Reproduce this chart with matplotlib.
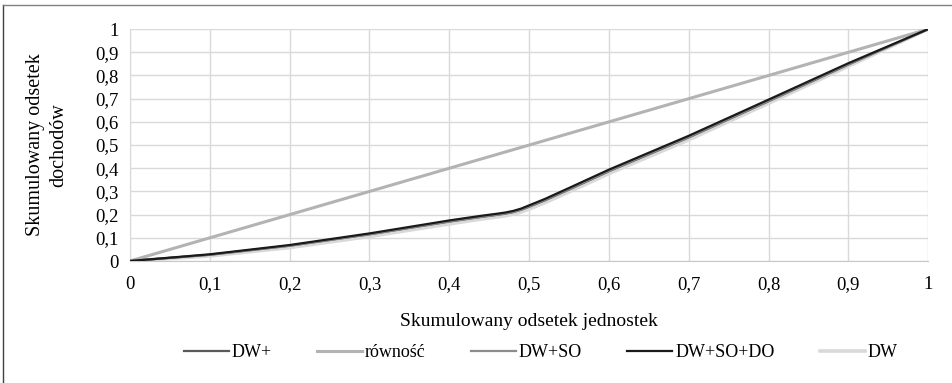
import matplotlib
matplotlib.use("Agg")
import matplotlib.pyplot as plt
from matplotlib.lines import Line2D
from matplotlib.ticker import FuncFormatter

# Cumulative population share (x) and cumulative income share (y)
x = [0, 0.1, 0.2, 0.3, 0.4, 0.44, 0.46, 0.47, 0.48, 0.49, 0.5, 0.52, 0.55, 0.6, 0.7, 0.8, 0.9, 1.0]
dw_plus = [0, 0.027, 0.066, 0.115, 0.170, 0.190, 0.199, 0.204, 0.211, 0.221, 0.234, 0.262, 0.308, 0.387, 0.533, 0.689, 0.847, 1.0]
rownosc = [0, 0.1, 0.2, 0.3, 0.4, 0.44, 0.46, 0.47, 0.48, 0.49, 0.5, 0.52, 0.55, 0.6, 0.7, 0.8, 0.9, 1.0]
dw_so = [0, 0.027, 0.066, 0.116, 0.171, 0.191, 0.200, 0.205, 0.212, 0.222, 0.236, 0.264, 0.310, 0.389, 0.535, 0.691, 0.849, 1.0]
dw_so_do = [0, 0.029, 0.069, 0.119, 0.175, 0.195, 0.204, 0.209, 0.216, 0.226, 0.240, 0.268, 0.315, 0.394, 0.540, 0.696, 0.853, 1.0]
dw = [0, 0.022, 0.058, 0.106, 0.160, 0.181, 0.190, 0.195, 0.202, 0.211, 0.224, 0.252, 0.298, 0.377, 0.523, 0.680, 0.840, 1.0]

ticks = [0, 0.1, 0.2, 0.3, 0.4, 0.5, 0.6, 0.7, 0.8, 0.9, 1]

plt.rcParams["font.family"] = ["Liberation Serif", "DejaVu Serif"]

fig = plt.figure(figsize=(9.52, 3.83), dpi=100)
ax = fig.add_axes([0.1366, 0.3185, 0.8384, 0.6055])

ax.plot(x, dw, color="#d9d9d9", linewidth=2.6, label="DW", zorder=3)
ax.plot(x, rownosc, color="#b3b3b3", linewidth=2.2, label="równość", zorder=3)
ax.plot(x, dw_plus, color="#595959", linewidth=1.6, label="DW+", zorder=4)
ax.plot(x, dw_so, color="#8c8c8c", linewidth=1.6, label="DW+SO", zorder=4)
ax.plot(x, dw_so_do, color="#1a1a1a", linewidth=1.6, label="DW+SO+DO", zorder=5)

ax.set_xlim(0, 1)
ax.set_ylim(0, 1)
ax.set_xticks(ticks)
ax.set_yticks(ticks)
fmt = FuncFormatter(lambda v, p: ("%g" % round(v, 1)).replace(".", ","))
ax.xaxis.set_major_formatter(fmt)
ax.yaxis.set_major_formatter(fmt)
ax.tick_params(length=0, labelsize=13.5, colors="black")
ax.tick_params(axis="x", pad=11)
ax.tick_params(axis="y", pad=8)
ax.grid(True, color="#d9d9d9", linewidth=1)
for s in ax.spines.values():
    s.set_visible(False)
ax.spines["bottom"].set_visible(True)
ax.spines["bottom"].set_color("#c8c8c8")
ax.spines["left"].set_visible(True)
ax.spines["left"].set_color("#d9d9d9")
ax.set_axisbelow(True)

ax.set_xlabel("Skumulowany odsetek jednostek", fontsize=14, labelpad=14)
ax.set_ylabel("Skumulowany odsetek\ndochodów", fontsize=14.5, labelpad=20, linespacing=1.25)

# legend in the order shown on the picture
handles, labels = ax.get_legend_handles_labels()
order = ["DW+", "równość", "DW+SO", "DW+SO+DO", "DW"]
hmap = dict(zip(labels, handles))
fig.legend([hmap[k] for k in order], order, loc="center", bbox_to_anchor=(0.568, 0.08),
           ncol=5, frameon=False, fontsize=13, handlelength=2.5, handletextpad=0.15,
           columnspacing=2.5)

# outer frame of the chart
fig.add_artist(Line2D([0.003, 0.003], [0, 0.987], color="#404040", linewidth=1,
                      transform=fig.transFigure))
fig.add_artist(Line2D([0.003, 1.0], [0.987, 0.987], color="#808080", linewidth=1,
                      transform=fig.transFigure))

fig.savefig("out.png", dpi=100)
